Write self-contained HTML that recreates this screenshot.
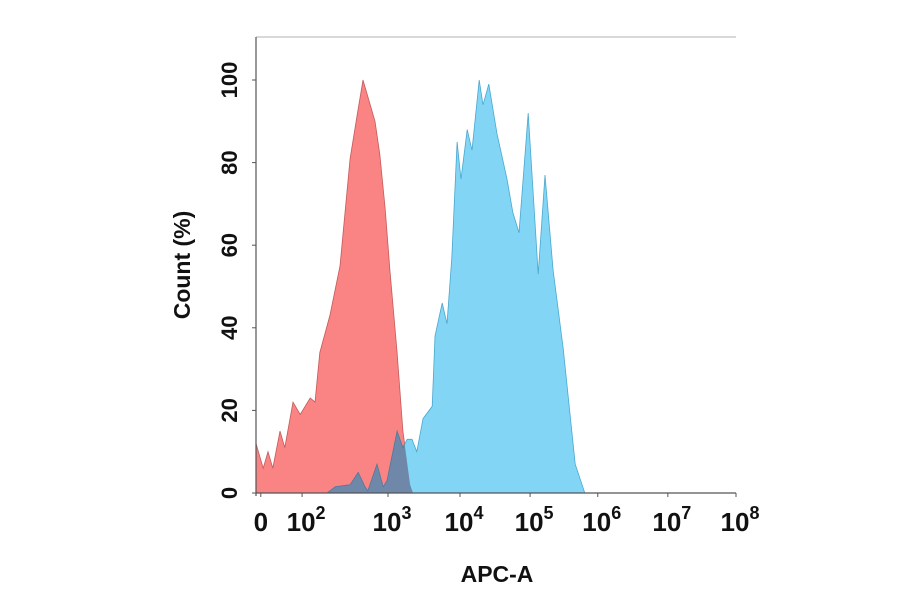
<!DOCTYPE html>
<html><head><meta charset="utf-8"><style>
body{margin:0;background:#fff}
svg{display:block}
text{font-family:"Liberation Sans",Arial,sans-serif;font-weight:bold;fill:#111}
</style></head><body>
<svg id="chart" width="900" height="594" viewBox="0 0 900 594" xmlns="http://www.w3.org/2000/svg">
<defs><clipPath id="redclip"><path id="redclipPath"/></clipPath></defs>
<g id="plot"></g>
<g id="axes"></g>
</svg>
<script>
// Data (x in axis channel units 0..1000, y in Count %)
const redX=[0,15,25,35,50,60,77,92,113,123,133,154,175,196,210,223,233,248,258,269,279,294,306,321,327];
const redY=[12,6,10,6,15,11,22,19,23,22,34,43,55,81,91,100,96,90,82,69,54,34,15,2,0];
const blueX=[148,165,196,213,227,233,252,265,273,294,306,315,325,335,348,367,373,388,398,408,419,427,440,450,465,473,485,502,523,535,548,567,588,602,619,640,665,685];
const blueY=[0,1.5,2,5,1.5,0.5,7,1.5,3,15,11,13,13,10,18,21,38,46,41,57,85,76,88,83,100,94,99,87,76,68,63,92,53,77,54,35,7,0];
const yTicks=[0,20,40,60,80,100];
const xTickPos=[10,96,275,425,571,712,858,1000];
const xTickBase=["0","10","10","10","10","10","10","10"];
const xTickExp=["","2","3","4","5","6","7","8"];

const L=256,R=736,T=37,B=493;
const xs=v=>L+v/1000*(R-L);
const ys=v=>B-v*(B-80)/100;
const NS="http://www.w3.org/2000/svg";
function mk(tag,attrs,parent){const e=document.createElementNS(NS,tag);for(const k in attrs)e.setAttribute(k,attrs[k]);parent.appendChild(e);return e;}
function areaPath(X,Y){let d="M"+xs(X[0])+","+B;for(let i=0;i<X.length;i++)d+=" L"+xs(X[i]).toFixed(1)+","+ys(Y[i]).toFixed(1);d+=" L"+xs(X[X.length-1])+","+B+" Z";return d;}
const plot=document.getElementById('plot'),axes=document.getElementById('axes');
document.getElementById('redclipPath').setAttribute('d',areaPath(redX,redY));

const red=mk('path',{d:areaPath(redX,redY),fill:'#fa8383',stroke:'#c45a5a','stroke-width':0.8},plot);


const blue=mk('path',{d:areaPath(blueX,blueY),fill:'#82d5f5',stroke:'#4aa8cf','stroke-width':0.8},plot);


const ov=mk('path',{d:areaPath(blueX,blueY),fill:'#6f87a8',stroke:'#55708f','stroke-width':0.6,'clip-path':'url(#redclip)'},plot);



// frame
const fr=mk('line',{x1:L,y1:T,x2:R,y2:T,stroke:'#999','stroke-width':0.8},axes);


const ya=mk('line',{x1:L,y1:T,x2:L,y2:B+3,stroke:'#555','stroke-width':1.2},axes);


const xa=mk('line',{x1:L,y1:B,x2:R,y2:B,stroke:'#555','stroke-width':1.2},axes);



yTicks.forEach(v=>{
  const y=ys(v);
  mk('line',{x1:L-4,y1:y,x2:L,y2:y,stroke:'#555'},axes);
  const t=mk('text',{x:0,y:0,transform:`translate(237,${y}) rotate(-90)`,'text-anchor':'middle','font-size':22},axes);
  t.textContent=v;
  
  
});
xTickPos.forEach((p,i)=>{
  const x=xs(p);
  mk('line',{x1:x,y1:B,x2:x,y2:B+4,stroke:'#555'},axes);
  const t=mk('text',{x:x,y:531,'text-anchor':'middle','font-size':26},axes);
  t.textContent=xTickBase[i];
  if(xTickExp[i]){const s=mk('tspan',{dy:-12,'font-size':18},t);s.textContent=xTickExp[i];t.setAttribute('x',x+4);}
  
  
});
const xt=mk('text',{x:497,y:582,'text-anchor':'middle','font-size':23},axes);
xt.textContent='APC-A';


const yt=mk('text',{transform:'translate(190,265) rotate(-90)','text-anchor':'middle','font-size':23},axes);
yt.textContent='Count  (%)';


</script>
</body></html>
